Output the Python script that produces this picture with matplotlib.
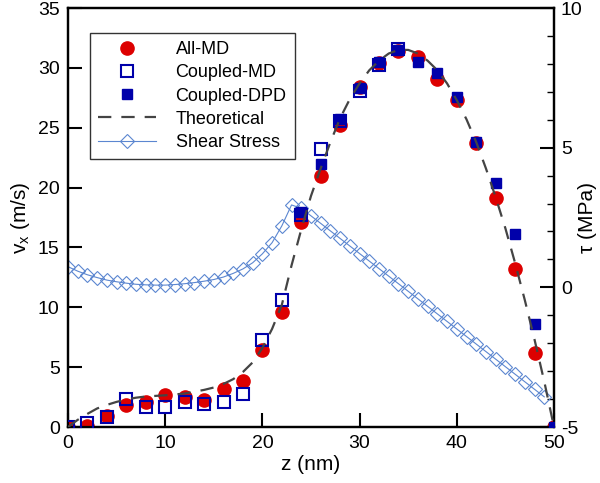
import matplotlib
matplotlib.use("Agg")
import matplotlib.pyplot as plt
from matplotlib.ticker import MultipleLocator

plt.rcParams['font.family'] = ['Liberation Sans', 'DejaVu Sans']
plt.rcParams['axes.unicode_minus'] = False

# ---- data ----
z_md = [0, 2, 4, 6, 8, 10, 12, 14, 16, 18, 20, 22, 24, 26, 28, 30, 32, 34, 36, 38, 40, 42, 44, 46, 48, 50]
v_all_md = [0.0, 0.1, 0.95, 1.8, 2.05, 2.67, 2.5, 2.25, 3.2, 3.84, 6.4, 9.6, 17.1, 21.0, 25.2, 28.4,
            30.4, 31.45, 30.9, 29.1, 27.3, 23.75, 19.1, 13.2, 6.2, 0.0]

z_cmd = [0, 2, 4, 6, 8, 10, 12, 14, 16, 18, 20, 22, 24, 26, 28, 30, 32, 34]
v_coupled_md = [0.0, 0.3, 0.86, 2.3, 1.64, 1.7, 2.06, 1.9, 2.06, 2.73, 7.27, 10.6, 17.7, 23.2,
                25.6, 28.1, 30.2, 31.55]

z_dpd = [24, 26, 28, 30, 32, 34, 36, 38, 40, 42, 44, 46, 48, 50]
v_coupled_dpd = [18.0, 22.0, 25.7, 28.3, 30.5, 31.5, 30.5, 29.6, 27.6, 23.8, 20.4, 16.1, 8.6, 0.0]

z_theory = list(range(0, 51))
v_theory = [0.0, 0.6, 1.1, 1.55, 1.85, 2.1, 2.3, 2.45, 2.55, 2.6, 2.65, 2.72, 2.8, 2.95, 3.1, 3.3,
            3.6, 4.0, 4.6, 5.4, 6.6, 8.2, 10.2, 13.5, 16.5, 19.3, 21.6, 23.8, 25.8, 27.4, 28.7,
            29.8, 30.6, 31.2, 31.5, 31.5, 31.2, 30.6, 29.8, 28.7, 27.3, 25.7, 23.8, 21.6, 19.2,
            16.6, 13.7, 10.6, 7.3, 3.8, 0.0]

z_tau = list(range(0, 50))
tau = [0.74, 0.58, 0.45, 0.35, 0.26, 0.2, 0.15, 0.11, 0.09, 0.08, 0.08, 0.1, 0.13, 0.17, 0.22,
       0.28, 0.37, 0.5, 0.66, 0.88, 1.2, 1.6, 2.2, 2.95, 2.83, 2.56, 2.29, 2.02, 1.75, 1.48,
       1.21, 0.94, 0.67, 0.40, 0.13, -0.14, -0.41, -0.68, -0.95, -1.22, -1.49, -1.76, -2.03,
       -2.3, -2.57, -2.84, -3.11, -3.38, -3.65, -3.92]

red = '#dd0000'
navy = '#0000aa'
stress_c = '#5b86d0'

fig = plt.figure(figsize=(6, 4.83), dpi=100)
ax = fig.add_axes([0.1133, 0.1159, 0.81, 0.8675])
ax2 = ax.twinx()
ax.set_zorder(ax2.get_zorder() + 1)
ax.patch.set_visible(False)

# shear stress on the right axis
ln_tau, = ax2.plot(z_tau, tau, '-', color=stress_c, lw=0.8, marker='D', ms=7,
                   mfc='none', mec=stress_c, mew=0.8, label='Shear Stress')

h1, = ax.plot(z_md, v_all_md, 'o', color=red, ms=9.5, mec=red, label='All-MD', zorder=2)
h2, = ax.plot(z_cmd, v_coupled_md, 's', ms=8, mfc='none', mec=navy, mew=1.5,
              label='Coupled-MD', zorder=3)
h3, = ax.plot(z_dpd, v_coupled_dpd, 's', ms=7.5, color=navy, mec=navy, label='Coupled-DPD', zorder=4)
h4, = ax.plot(z_theory, v_theory, color='#444444', lw=1.6, dashes=(6, 4.5),
              label='Theoretical', zorder=5)

ax.set_xlim(0, 50)
ax.set_ylim(0, 35)
ax2.set_ylim(-5, 10)

ax.xaxis.set_major_locator(MultipleLocator(10))
ax.yaxis.set_major_locator(MultipleLocator(5))
ax2.yaxis.set_major_locator(MultipleLocator(5))
ax2.yaxis.set_minor_locator(MultipleLocator(1))

ax.tick_params(axis='both', direction='in', length=10, width=1.5, labelsize=14, pad=6,
               top=False, right=False)
ax2.tick_params(axis='y', which='major', direction='in', length=10, width=1.5, labelsize=14, pad=5)
ax2.tick_params(axis='y', which='minor', direction='in', length=5, width=1)

for a in (ax, ax2):
    for s in a.spines.values():
        s.set_linewidth(1.6)

ax.set_xlabel('z (nm)', fontsize=15, labelpad=2)
ax.set_ylabel('v$_\\mathregular{x}$ (m/s)', fontsize=15, labelpad=4)
ax2.set_ylabel('\u03c4 (MPa)', fontsize=15, rotation=90)
ax2.yaxis.set_label_coords(1.05, 0.5)

leg = ax.legend(handles=[h1, h2, h3, h4, ln_tau], loc='upper left',
                bbox_to_anchor=(0.045, 0.94), borderaxespad=0, fontsize=13,
                frameon=True, fancybox=False, handlelength=3.2, handletextpad=1.1,
                labelspacing=0.34, borderpad=0.45)
leg.get_frame().set_edgecolor('black')
leg.get_frame().set_linewidth(1.0)

fig.savefig('out.png', dpi=100)
